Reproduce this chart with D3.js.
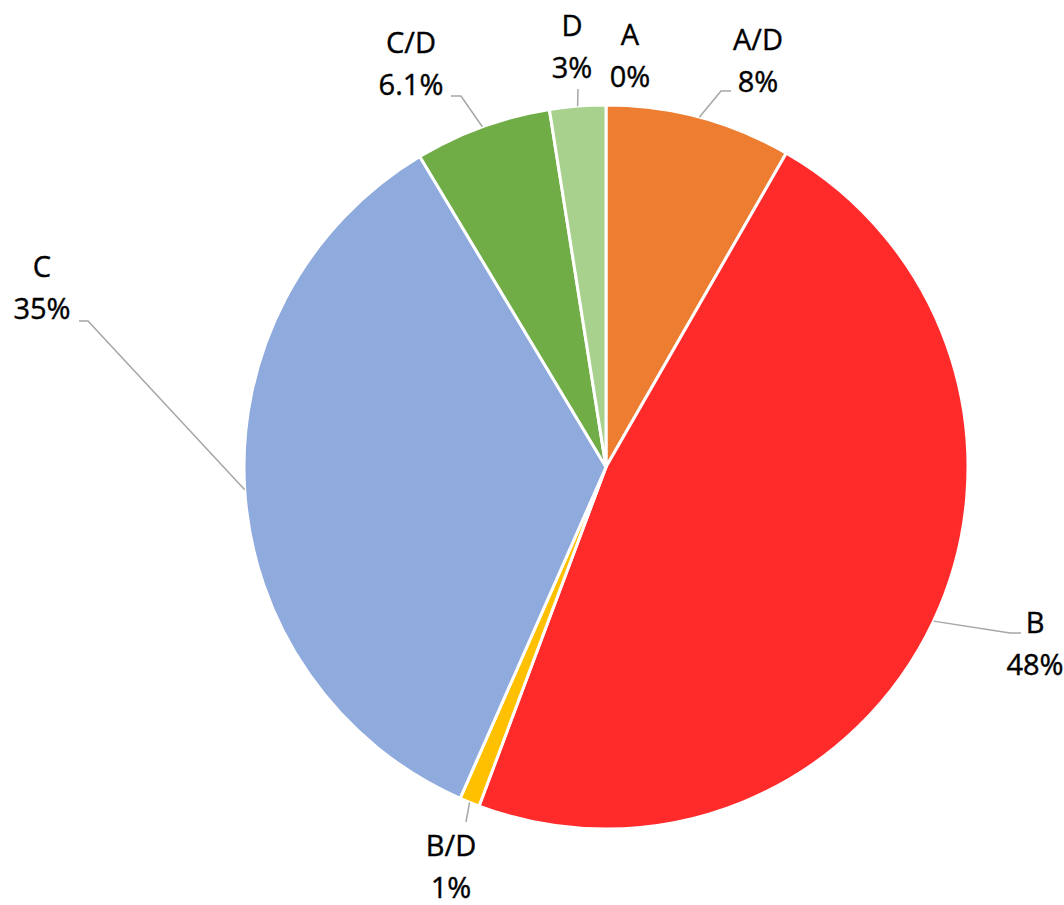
<!DOCTYPE html>
<html>
<head>
<meta charset="utf-8">
<script src="https://cdn.jsdelivr.net/npm/d3@7"></script>
<style>
  body { margin: 0; background: #fff; }
  text { font-family: "Open Sans", "Noto Sans", sans-serif; fill: #000; }
</style>
</head>
<body>
<div id="chart"></div>
<script>
const WIDTH = 1064;
const HEIGHT = 905;

// data, clockwise from 12 o'clock
const categories = ["A", "A/D", "B", "B/D", "C", "C/D", "D"];
const shares = [0, 8.3, 47.4, 0.9, 34.8, 6.1, 2.5];
const shareLabels = ["0%", "8%", "48%", "1%", "35%", "6.1%", "3%"];
const colors = ["#4472C4", "#ED7D31", "#FF2B2B", "#FFC000", "#8FAADC", "#70AD47", "#A9D18E"];

// label placement: text centre x, baseline of first line, leader elbow [x, y], leader end x
const labelLayout = [
    { x: 630, y: 45, elbow: null, endX: null },
    { x: 758, y: 50, elbow: [721, 91], endX: 731 },
    { x: 1035, y: 633, elbow: [1010, 633], endX: 1021 },
    { x: 451, y: 856, elbow: [466, 822], endX: 466 },
    { x: 42, y: 277, elbow: [88, 321], endX: 79 },
    { x: 411, y: 53, elbow: [461, 96], endX: 451 },
    { x: 572, y: 36, elbow: [578, 89], endX: 578 }
];

const cx = 606, cy = 467, radius = 362;

const svg = d3.select("#chart").append("svg")
    .attr("width", WIDTH)
    .attr("height", HEIGHT);

const g = svg.append("g")
    .attr("transform", "translate(" + cx + "," + cy + ")");

const pie = d3.pie().sort(null).value(d => d)(shares);
const arc = d3.arc().innerRadius(0).outerRadius(radius);
const edge = d3.arc().innerRadius(radius).outerRadius(radius);

g.selectAll("path.slice")
    .data(pie)
    .enter()
    .append("path")
    .attr("class", "slice")
    .attr("d", arc)
    .attr("fill", (d, i) => colors[i])
    .attr("stroke", "#fff")
    .attr("stroke-width", 3)
    .attr("stroke-linejoin", "round");

// leader lines
pie.forEach((d, i) => {
    const lay = labelLayout[i];
    if (!lay.elbow) return;
    const p = edge.centroid(d);
    const pts = [[p[0] + cx, p[1] + cy], lay.elbow, [lay.endX, lay.elbow[1]]];
    svg.append("path")
        .attr("d", d3.line()(pts))
        .attr("fill", "none")
        .attr("stroke", "#A6A6A6")
        .attr("stroke-width", 1.5);
});

// labels
categories.forEach((c, i) => {
    const lay = labelLayout[i];
    const t = svg.append("text")
        .attr("text-anchor", "middle")
        .attr("font-size", 29)
        .attr("stroke", "#000")
        .attr("stroke-width", 0.4);
    t.append("tspan").attr("x", lay.x).attr("y", lay.y).text(c);
    t.append("tspan").attr("x", lay.x).attr("y", lay.y + 42).text(shareLabels[i]);
});
</script>
</body>
</html>
